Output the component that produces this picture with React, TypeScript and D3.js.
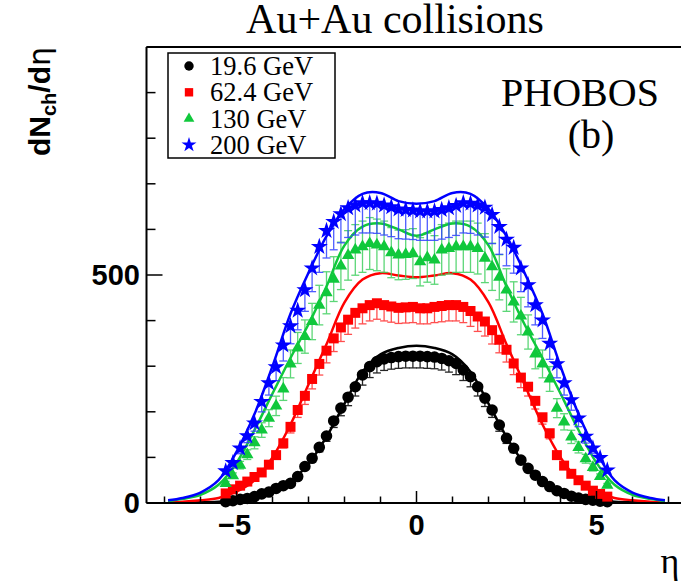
import React from 'react';
import * as d3 from 'd3';

// pseudorapidity bin centres of the measured points
const etaPoints = [
  -5.3, -5.1, -4.9, -4.7, -4.5, -4.3, -4.1, -3.9, -3.7, -3.5, -3.3, -3.1, -2.9, -2.7,
  -2.5, -2.3, -2.1, -1.9, -1.7, -1.5, -1.3, -1.1, -0.9, -0.7, -0.5, -0.3, -0.1,
  0.1, 0.3, 0.5, 0.7, 0.9, 1.1, 1.3, 1.5, 1.7, 1.9, 2.1, 2.3, 2.5, 2.7,
  2.9, 3.1, 3.3, 3.5, 3.7, 3.9, 4.1, 4.3, 4.5, 4.7, 4.9, 5.1, 5.3,
];

// measured dN/deta (points)
const dn19 = [
  3, 5, 8, 10, 14, 20, 24, 32, 38, 43, 58, 80, 98, 122, 147, 180, 208, 232, 255, 281,
  299, 310, 316, 319, 321, 322, 322, 322, 321, 320, 317, 312, 306, 292, 277, 255,
  230, 204, 171, 142, 120, 94, 76, 61, 47, 36, 27, 21, 15, 11, 8, 6, 4, 3,
];
const dn62 = [
  21, 30, 38, 47, 57, 67, 84, 105, 131, 167, 204, 235, 272, 305, 334, 361, 385, 402, 417, 427,
  434, 438, 434, 431, 428, 429, 430, 427, 427, 430, 432, 434, 434, 430, 421, 409,
  398, 379, 358, 336, 306, 275, 255, 224, 188, 153, 105, 82, 64, 50, 38, 27, 20, 14,
];
const dn130 = [
  43, 60, 83, 106, 132, 160, 186, 213, 250, 305, 340, 365, 398, 434, 461, 491, 520, 543, 555, 562,
  569, 566, 562, 549, 544, 545, 547, 529, 538, 533, 555, 558, 562, 562, 562, 558,
  537, 518, 495, 467, 441, 410, 375, 327, 305, 272, 208, 178, 145, 122, 97, 78, 58, 39,
];
const dn200 = [
  70, 88, 120, 147, 175, 222, 263, 298, 346, 388, 422, 467, 515, 562, 597, 617, 634, 647, 653, 658,
  658, 657, 653, 649, 644, 643, 642, 640, 640, 640, 643, 647, 652, 658, 657, 653,
  648, 632, 606, 578, 560, 515, 478, 434, 401, 350, 305, 263, 226, 186, 146, 120, 99, 72,
];

// model curves
const lineEta = [
  -6.9, -6.5, -6, -5.5, -5, -4.5, -4, -3.5, -3, -2.5, -2, -1.5, -1, -0.5, 0,
  0.5, 1, 1.5, 2, 2.5, 3, 3.5, 4, 4.5, 5, 5.5, 6, 6.5, 6.9,
];
const model19 = [0.5, 1, 1.5, 3, 6, 13, 25, 47, 86, 145, 218, 288, 326, 340, 345, 340, 326, 288, 218, 145, 86, 47, 25, 13, 6, 3, 1.5, 1, 0.5];
const model62 = [2, 3, 6, 11, 25, 50, 100, 172, 260, 348, 440, 490, 504, 499, 495, 499, 504, 490, 440, 348, 260, 172, 100, 50, 25, 11, 6, 3, 2];
const model130 = [4, 9, 18, 40, 88, 160, 240, 318, 392, 475, 565, 606, 613, 600, 586, 600, 613, 606, 565, 475, 392, 318, 240, 160, 88, 40, 18, 9, 4];
const model200 = [6, 11, 23, 50, 112, 195, 300, 415, 505, 585, 645, 678, 680, 662, 656, 662, 680, 678, 645, 585, 505, 415, 300, 195, 112, 50, 23, 11, 6];

const legendLabels = ['19.6 GeV', '62.4 GeV', '130 GeV', '200 GeV'];
const xTickLabels = [-5, 0, 5];
const yTickLabels = [0, 500];

const W = 681;
const H = 581;
const x = d3.scaleLinear().domain([-7.5, 7.5]).range([146.5, 686.5]);
const y = d3.scaleLinear().domain([0, 1000]).range([503, 47]);

const SERIF = "'Liberation Serif', 'Times New Roman', serif";
const SANS = "'Liberation Sans', Arial, sans-serif";

const series = [
  { label: legendLabels[0], data: dn19, model: model19, color: '#000000', barColor: '#000000', symbol: d3.symbolCircle, size: 105, lsize: 70, errLo: 0.08, errHi: 0 },
  { label: legendLabels[1], data: dn62, model: model62, color: '#ff0000', barColor: '#ff3030', symbol: d3.symbolSquare, size: 100, lsize: 70, errLo: 0.08, errHi: 0 },
  { label: legendLabels[2], data: dn130, model: model130, color: '#10c83c', barColor: '#40d060', symbol: d3.symbolTriangle, size: 66, lsize: 50, errLo: 0.1, errHi: 0.1 },
  { label: legendLabels[3], data: dn200, model: model200, color: '#0000ff', barColor: '#3040ff', symbol: d3.symbolStar, size: 90, lsize: 70, errLo: 0.1, errHi: 0 },
];

const line = d3
  .line<number>()
  .x((_, i) => x(lineEta[i]))
  .y((d) => y(d))
  .curve(d3.curveCatmullRom.alpha(0.5));

export default function App() {
  const xTicks = d3.range(-7, 8, 1);
  const yTicks = y.ticks(10);
  const cap = 4;
  return (
    <svg width={W} height={H} style={{ position: 'absolute', left: 0, top: 0, background: '#fff' }}>
      <rect x={0} y={0} width={W} height={H} fill="#fff" />
      {/* title */}
      <text x={395} y={33} textAnchor="middle" fontFamily={SERIF} fontSize={42}>Au+Au collisions</text>

      {/* data */}
      {series.map((s, si) => (
        <g key={si}>
          <g stroke={s.barColor} strokeWidth={1.3} opacity={0.85}>
            {s.data.map((v, i) => {
              const cx = x(etaPoints[i]);
              const lo = y(v * (1 - s.errLo));
              const hi = y(v * (1 + s.errHi));
              return (
                <g key={i}>
                  <line x1={cx} x2={cx} y1={lo} y2={hi} />
                  <line x1={cx - cap} x2={cx + cap} y1={lo} y2={lo} />
                  {s.errHi > 0 && <line x1={cx - cap} x2={cx + cap} y1={hi} y2={hi} />}
                </g>
              );
            })}
          </g>
          <g fill={s.color}>
            {s.data.map((v, i) => (
              <path key={i} d={d3.symbol(s.symbol, s.size)() as string} transform={`translate(${x(etaPoints[i])},${y(v)})`} />
            ))}
          </g>
          <path d={line(s.model) as string} fill="none" stroke={s.color} strokeWidth={2.5} />
        </g>
      ))}

      {/* frame / axes */}
      <g stroke="#000" strokeWidth={2} fill="none">
        <line x1={x(-7.5)} x2={x(-7.5)} y1={y(1000)} y2={y(0)} />
        <line x1={x(-7.5)} x2={W} y1={y(0)} y2={y(0)} />
        <line x1={x(-7.5)} x2={W} y1={y(1000)} y2={y(1000)} />
      </g>
      <g stroke="#000" strokeWidth={1.5}>
        {xTicks.map((t) => (
          <line key={t} x1={x(t)} x2={x(t)} y1={y(0)} y2={y(0) - (t % 5 === 0 ? 12 : 6.5)} />
        ))}
        {yTicks.map((t) => (
          <line key={t} x1={x(-7.5)} x2={x(-7.5) + (t % 500 === 0 ? 16 : 9)} y1={y(t)} y2={y(t)} />
        ))}
      </g>
      {xTickLabels.map((t) => (
        <text key={t} x={x(t) + (t < 0 ? -2 : 0)} y={535} textAnchor="middle" fontFamily={SANS} fontWeight="bold" fontSize={29}>
          {t < 0 ? `\u2212${-t}` : `${t}`}
        </text>
      ))}
      {yTickLabels.map((t) => (
        <text key={t} x={140} y={y(t) + 10} textAnchor="end" fontFamily={SANS} fontWeight="bold" fontSize={29}>
          {t}
        </text>
      ))}

      {/* axis titles */}
      <text transform="translate(50,47) rotate(-90)" textAnchor="end" fontFamily={SANS} fontWeight="bold" fontSize={30}>
        dN<tspan fontSize={20} dy={6}>ch</tspan>
        <tspan dy={-6}>/d</tspan>
        <tspan fontWeight="normal" fontFamily="'DejaVu Sans', sans-serif">η</tspan>
      </text>
      <text x={670} y={573} textAnchor="middle" fontFamily={SERIF} fontSize={36}>η</text>

      {/* labels */}
      <text x={580} y={106} textAnchor="middle" fontFamily={SERIF} fontSize={40}>PHOBOS</text>
      <text x={591} y={148} textAnchor="middle" fontFamily={SERIF} fontSize={40}>(b)</text>

      {/* legend */}
      <rect x={168} y={53} width={167} height={105} fill="#fff" stroke="#000" strokeWidth={1.5} />
      {series.map((s, i) => {
        const cy = 66 + i * 26.3;
        return (
          <g key={i}>
            <path d={d3.symbol(s.symbol, s.lsize)() as string} transform={`translate(189,${cy})`} fill={s.color} />
            <text x={210} y={cy + 9} fontFamily={SERIF} fontSize={26.5}>{s.label}</text>
          </g>
        );
      })}
    </svg>
  );
}
